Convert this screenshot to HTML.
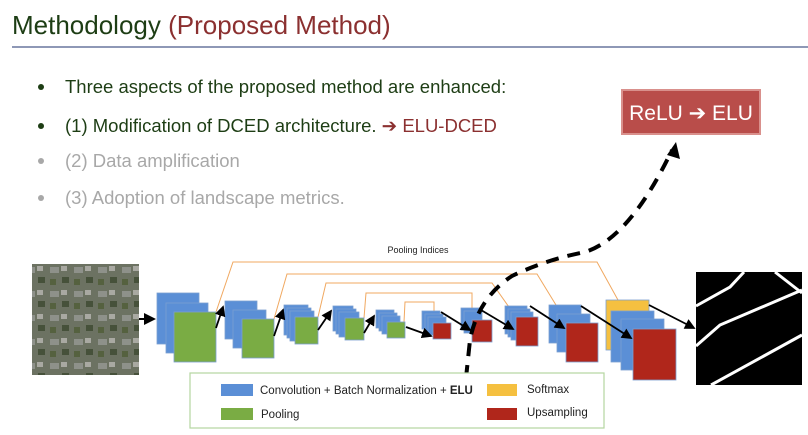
<!DOCTYPE html>
<html><head><meta charset="utf-8"><style>
html,body{margin:0;padding:0;background:#fff;}
body{width:808px;height:435px;overflow:hidden;position:relative;font-family:"Liberation Sans",sans-serif;}
svg{position:absolute;left:0;top:0;}
</style></head><body>
<svg width="808" height="435" viewBox="0 0 808 435">
<defs>
<pattern id="aer" width="24" height="24" patternUnits="userSpaceOnUse">
<rect width="24" height="24" fill="#6c7262"/><rect x="2" y="3" width="9" height="6" fill="#8e918a"/><rect x="14" y="13" width="7" height="6" fill="#46513a"/><rect x="13" y="2" width="6" height="5" fill="#a9a9a2"/><rect x="2" y="15" width="6" height="6" fill="#55613f"/>
</pattern>
<marker id="ah" markerWidth="6" markerHeight="6" refX="5" refY="3" orient="auto"><path d="M0,0 L6,3 L0,6 z" fill="#000"/></marker>
</defs>
<g>
<text x="12" y="34" font-size="26" fill="#1d3d14">Methodology <tspan fill="#8b3030">(Proposed Method)</tspan></text>
</g>
<line x1="12" y1="47" x2="808" y2="47" stroke="#4a5a8a" stroke-width="1.2"/>
<g font-size="18.5">
<circle cx="41" cy="87" r="3" fill="#1d3d14"/><text x="65" y="93" fill="#1d3d14">Three aspects of the proposed method are enhanced:</text>
<circle cx="41" cy="126" r="3" fill="#1d3d14"/><text x="65" y="132" fill="#1d3d14">(1) Modification of DCED architecture. <tspan fill="#8b3030">➔ ELU-DCED</tspan></text>
<circle cx="41" cy="161" r="3" fill="#a8a8a8"/><text x="65" y="167" fill="#a8a8a8">(2) Data amplification</text>
<circle cx="41" cy="198" r="3" fill="#a8a8a8"/><text x="65" y="204" fill="#a8a8a8">(3) Adoption of landscape metrics.</text>
</g>
<g>
<rect x="622" y="90" width="138" height="44" fill="#b94d4a" stroke="#d9908c" stroke-width="2"/>
<text x="691" y="120" font-size="21" fill="#fff" text-anchor="middle">ReLU ➔ ELU</text>
</g>
<rect x="32" y="264" width="107" height="111" fill="url(#aer)"/>
<line x1="139" y1="319" x2="154" y2="319" stroke="#000" stroke-width="2" marker-end="url(#ah)"/>
<text x="418" y="253" font-size="9" fill="#222" text-anchor="middle">Pooling Indices</text>
<g fill="none" stroke="#f0a860" stroke-width="1">
<polyline points="216,312 233,262 597,262 634,329"/>
<polyline points="274,319 287,274 537,274 567,323"/>
<polyline points="318,317 326,283 492,283 516,317"/>
<polyline points="364,318 366,293 472,293 472,320"/>
<polyline points="404,322 405,302 434,302 434,323"/>
</g>
<g stroke="#7a9fd0" stroke-width="0.8">
<rect x="157" y="293" width="42" height="51" fill="#5b8fd6"/><rect x="166" y="303" width="42" height="50" fill="#5b8fd6"/><rect x="174" y="312" width="42" height="50" fill="#7aac44"/>
<rect x="225" y="301" width="32" height="38" fill="#5b8fd6"/><rect x="233" y="310" width="33" height="38" fill="#5b8fd6"/><rect x="242" y="319" width="32" height="39" fill="#7aac44"/>
<rect x="284" y="305" width="24" height="30" fill="#5b8fd6"/><rect x="287" y="308" width="24" height="30" fill="#5b8fd6"/><rect x="290" y="311" width="24" height="30" fill="#5b8fd6"/><rect x="295" y="317" width="23" height="27" fill="#7aac44"/>
<rect x="333" y="306" width="20" height="25" fill="#5b8fd6"/><rect x="336" y="309" width="20" height="25" fill="#5b8fd6"/><rect x="339" y="312" width="20" height="25" fill="#5b8fd6"/><rect x="345" y="318" width="19" height="22" fill="#7aac44"/>
<rect x="376" y="310" width="18" height="18" fill="#5b8fd6"/><rect x="379" y="313" width="18" height="18" fill="#5b8fd6"/><rect x="382" y="316" width="18" height="18" fill="#5b8fd6"/><rect x="387" y="322" width="18" height="16" fill="#7aac44"/>
</g>
<g stroke="#7a9fd0" stroke-width="0.8">
<rect x="422" y="311" width="18" height="18" fill="#5b8fd6"/><rect x="425" y="314" width="18" height="18" fill="#5b8fd6"/><rect x="428" y="317" width="18" height="18" fill="#5b8fd6"/><rect x="433" y="323" width="18" height="16" fill="#b0261b"/>
<rect x="461" y="308" width="18" height="22" fill="#5b8fd6"/><rect x="464" y="311" width="18" height="22" fill="#5b8fd6"/><rect x="472" y="320" width="20" height="22" fill="#b0261b"/>
<rect x="505" y="306" width="22" height="28" fill="#5b8fd6"/><rect x="508" y="309" width="22" height="28" fill="#5b8fd6"/><rect x="511" y="312" width="22" height="28" fill="#5b8fd6"/><rect x="516" y="317" width="22" height="29" fill="#b0261b"/>
<rect x="549" y="305" width="32" height="38" fill="#5b8fd6"/><rect x="557" y="314" width="33" height="38" fill="#5b8fd6"/><rect x="566" y="323" width="32" height="39" fill="#b0261b"/>
<rect x="606" y="300" width="43" height="50" fill="#f5c040"/><rect x="611" y="311" width="43" height="51" fill="#5b8fd6"/><rect x="621" y="319" width="43" height="51" fill="#5b8fd6"/><rect x="633" y="329" width="43" height="51" fill="#b0261b"/>
</g>
<g stroke="#000" stroke-width="1.8" marker-end="url(#ah)">
<line x1="216" y1="328" x2="223" y2="307"/><line x1="274" y1="336" x2="283" y2="310"/><line x1="318" y1="330" x2="331" y2="311"/><line x1="364" y1="333" x2="374" y2="316"/>
<line x1="406" y1="327" x2="431" y2="336"/>
<line x1="441" y1="312" x2="470" y2="330"/>
<line x1="481" y1="310" x2="513" y2="329"/>
<line x1="530" y1="306" x2="564" y2="328"/>
<line x1="581" y1="306" x2="631" y2="338"/>
<line x1="649" y1="305" x2="694" y2="328"/>
</g>
<g>
<rect x="696" y="272" width="106" height="113" fill="#000"/>
<g stroke="#fff" stroke-width="3" fill="none">
<path d="M696,306 L730,287 L744,272"/><path d="M775,272 L802,293"/>
<path d="M696,346 L720,325 L802,290"/><path d="M711,385 L802,335"/>
</g>
</g>
<path d="M466,378 L470,340 Q478,298 512,276 Q545,260 585,252 Q630,238 672,150" fill="none" stroke="#000" stroke-width="4" stroke-dasharray="13,9"/>
<path d="M667,155 L676,142 L680,159 z" fill="#000"/>
<g>
<rect x="190" y="373" width="414" height="55" fill="#fff" stroke="#b5d6a0" stroke-width="1.2"/>
<rect x="221" y="384" width="32" height="12" fill="#5b8fd6"/><text x="260" y="394" font-size="11.5" fill="#222">Convolution + Batch Normalization + <tspan font-weight="bold">ELU</tspan></text>
<rect x="221" y="408" width="32" height="12" fill="#7aac44"/><text x="261" y="418" font-size="11.5" fill="#222">Pooling</text>
<rect x="487" y="384" width="30" height="12" fill="#f5c040"/><text x="527" y="393" font-size="11.5" fill="#222">Softmax</text>
<rect x="487" y="408" width="30" height="12" fill="#b0261b"/><text x="527" y="416" font-size="11.5" fill="#222">Upsampling</text>
</g>
</svg>
</body></html>
